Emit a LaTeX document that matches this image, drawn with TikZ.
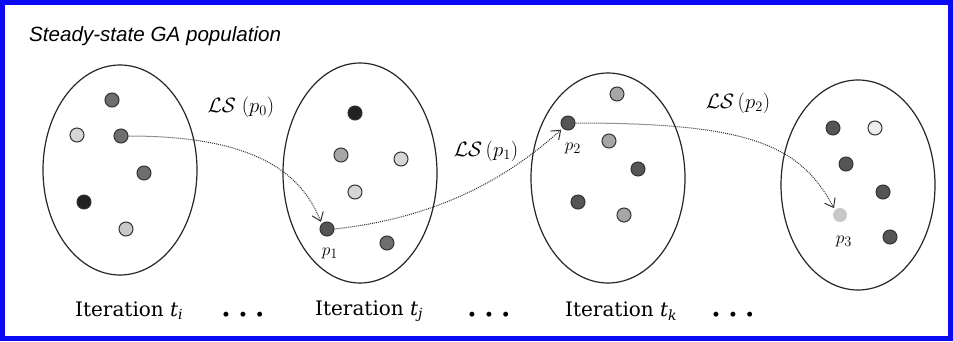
\documentclass[tikz,border=0pt]{standalone}
\usepackage{fontspec}
\newfontfamily\titlefont{Liberation Sans}
\newfontfamily\itfont{DejaVu Serif}
\usetikzlibrary{shapes.geometric,arrows.meta}
\definecolor{frameblue}{HTML}{0A0AF5}
\definecolor{gblack}{HTML}{222222}
\definecolor{gdark}{HTML}{555555}
\definecolor{gmid}{HTML}{6E6E6E}
\definecolor{ggray}{HTML}{A6A6A6}
\definecolor{glight}{HTML}{D6D6D6}
\definecolor{gwhite}{HTML}{EEEEEE}
\definecolor{gpale}{HTML}{C8C8C8}
\begin{document}
\begin{tikzpicture}[x=1pt,y=-1pt,
  pop/.style={draw=black!85, line width=1.2pt, ellipse, minimum width=154pt, minimum height=210pt, inner sep=0pt},
  ind/.style={circle, draw=black!80, line width=1pt, minimum size=14pt, inner sep=0pt, fill=#1},
  lsarrow/.style={densely dotted, line width=1pt, draw=black!80, -{Straight Barb[length=8pt,width=12pt]}, shorten >=2pt},
  lslabel/.style={font=\fontsize{20}{22}\selectfont, inner sep=0pt},
  plabel/.style={font=\fontsize{19}{21}\selectfont, inner sep=0pt},
  itlabel/.style={font=\itfont\fontsize{20}{22}\selectfont, inner sep=0pt, anchor=west},
  dotslabel/.style={font=\fontsize{22}{24}\selectfont, inner sep=0pt}
]
\useasboundingbox (0,0) rectangle (953,341);
\fill[white] (0,0) rectangle (953,341);
\draw[frameblue, line width=5pt] (2.5,2.5) rectangle (950.5,338.5);

\node[font=\titlefont\itshape\fontsize{20.6}{22}\selectfont, anchor=west, inner sep=0pt] (title) at (29,36) {Steady-state GA population};

% populations
\node[pop] (e1) at (120,170) {};
\node[pop, minimum height=220pt] (e2) at (360,173) {};
\node[pop] (e3) at (608,178) {};
\node[pop] (e4) at (858,185) {};

% individuals population 1
\node[ind=gmid] (a1) at (112,100) {};
\node[ind=glight] (a2) at (77,135) {};
\node[ind=gmid] (p0) at (121,136) {};
\node[ind=gmid] (a4) at (144,173) {};
\node[ind=gblack] (a5) at (84,202) {};
\node[ind=gpale] (a6) at (126,229) {};

% population 2
\node[ind=gblack] (b1) at (355,113) {};
\node[ind=ggray] (b2) at (341,155) {};
\node[ind=glight] (b3) at (401,159) {};
\node[ind=glight] (b4) at (355,192) {};
\node[ind=gdark] (p1) at (327,229) {};
\node[ind=gmid] (b6) at (387,243) {};

% population 3
\node[ind=ggray] (c1) at (617,94) {};
\node[ind=gdark] (p2) at (568,123) {};
\node[ind=ggray] (c3) at (609,141) {};
\node[ind=gdark] (c4) at (638,169) {};
\node[ind=gdark] (c5) at (578,202) {};
\node[ind=ggray] (c6) at (624,215) {};

% population 4
\node[ind=gdark] (d1) at (833,128) {};
\node[ind=gwhite] (d2) at (875,128) {};
\node[ind=gdark] (d3) at (846,164) {};
\node[ind=gdark] (d4) at (883,192) {};
\node[circle, fill=gpale, minimum size=14pt, inner sep=0pt] (p3) at (840,215) {};
\node[ind=gdark] (d6) at (890,237) {};

% individual labels
\node[plabel] (lp1) at (330,253) {$p_1$};
\node[plabel] (lp2) at (573,148) {$p_2$};
\node[plabel] (lp3) at (844,241) {$p_3$};

% local search arrows
\draw[lsarrow] (p0.east) .. controls +(120,0) and +(-22,-55) .. (p1.north west);
\draw[lsarrow] (p1.east) .. controls +(110,-12) and +(-50,45) .. (p2.south west);
\draw[lsarrow] (p2.east) .. controls +(175,0) and +(-35,-65) .. (p3.north west);

\node[lslabel] (ls0) at (241,107) {$\mathcal{LS}\;(p_0)$};
\node[lslabel] (ls1) at (486,151) {$\mathcal{LS}\,(p_1)$};
\node[lslabel] (ls2) at (738,103) {$\mathcal{LS}\,(p_2)$};

% iteration labels
\node[itlabel] (it1) at (75,311) {Iteration \textit{t}\textsubscript{\textit{i}}};
\node[itlabel] (it2) at (315,311) {Iteration \textit{t}\textsubscript{\textit{j}}};
\node[itlabel] (it3) at (565,311) {Iteration \textit{t}\textsubscript{\textit{k}}};
\node[dotslabel] (dd1) at (243,316) {\textbullet\hspace{1pt}\textbullet\hspace{1pt}\textbullet};
\node[dotslabel] (dd2) at (489,316) {\textbullet\hspace{1pt}\textbullet\hspace{1pt}\textbullet};
\node[dotslabel] (dd3) at (733,316) {\textbullet\hspace{1pt}\textbullet\hspace{1pt}\textbullet};
\end{tikzpicture}
\end{document}
